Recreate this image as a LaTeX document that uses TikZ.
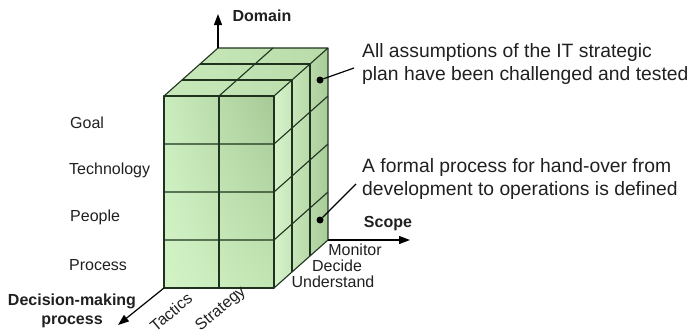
\documentclass[tikz,border=0pt]{standalone}
\usepackage{fontspec}
\setmainfont{Liberation Sans}
\usetikzlibrary{arrows.meta,shadings}
\definecolor{edgec}{HTML}{1E321E}
\definecolor{ful}{HTML}{CBEDBE}
\definecolor{fur}{HTML}{A6C996}
\definecolor{fll}{HTML}{D3F3C7}
\definecolor{flr}{HTML}{C2E5B3}
\definecolor{tl}{HTML}{C9E9BA}
\definecolor{td}{HTML}{B9DBA9}
\definecolor{rl}{HTML}{D6F3CA}
\definecolor{rd}{HTML}{A8CC98}
\definecolor{txt}{HTML}{202020}
\begin{document}
\begin{tikzpicture}[x=1pt,y=-1pt,
  grid/.style={draw=edgec,line width=1.1pt,line join=round},
  axis/.style={draw=black,line width=1.2pt,-{Triangle[length=11pt,width=8pt]}},
  lbl/.style={text=txt,font=\fontsize{16}{19}\selectfont,inner sep=0pt},
  blbl/.style={text=txt,font=\fontsize{16}{19}\selectfont\bfseries,inner sep=0pt},
  note/.style={text=txt,font=\fontsize{19.3}{23}\selectfont,align=left,inner sep=0pt,anchor=west},
  dot/.style={circle,fill=black,inner sep=0pt,minimum size=7pt},
  lead/.style={draw=black,line width=1.2pt}]
\useasboundingbox (0,0) rectangle (692,335);
% corners
\coordinate (A) at (164,96);
\coordinate (B) at (274,96);
\coordinate (C) at (274,288);
\coordinate (D) at (164,288);
\coordinate (E) at (218,48);
\coordinate (G) at (328,48);
\coordinate (H) at (328,240);
% faces
\shade[upper left=ful,upper right=fur,lower left=fll,lower right=flr] (A) -- (B) -- (C) -- (D) -- cycle;
\shade[left color=tl,right color=td] (A) -- (E) -- (G) -- (B) -- cycle;
\shade[left color=rl,right color=rd] (B) -- (G) -- (H) -- (C) -- cycle;
% grid
\foreach \k in {1,2}{
  \draw[grid] ({164+18*\k},{96-16*\k}) -- ({274+18*\k},{96-16*\k});
  \draw[grid] ({274+18*\k},{96-16*\k}) -- ({274+18*\k},{288-16*\k});
}
\draw[grid] (219,96) -- (273,48);
\draw[grid] (219,96) -- (219,288);
\foreach \y in {144,192,240}{
  \draw[grid] (164,\y) -- (274,\y) -- (328,{\y-48});
}
\draw[grid] (A) -- (B) -- (C) -- (D) -- cycle;
\draw[grid] (A) -- (E) -- (G) -- (B);
\draw[grid] (G) -- (H) -- (C);
% axes
\coordinate (domtip) at (218,14);
\coordinate (scotip) at (410,240);
\coordinate (dectip) at (118,325);
\draw[axis] (E) -- (domtip);
\draw[axis] (H) -- (scotip);
\draw[axis] (D) -- (dectip);
% axis labels
\node[blbl] (domain) at (262,16) {Domain};
\node[blbl] (scope) at (388,224) {Scope};
\node[blbl,align=center] (dmp) at (72,311) {Decision-making\\process};
% row labels
\node[lbl,anchor=west] (goal) at (70,123) {Goal};
\node[lbl,anchor=west] (tech) at (69,170) {Technology};
\node[lbl,anchor=west] (people) at (70,217) {People};
\node[lbl,anchor=west] (process) at (69,265) {Process};
% column labels
\node[lbl,rotate=40] (tactics) at (171,312) {Tactics};
\node[lbl,rotate=40] (strategy) at (221,309) {Strategy};
% depth labels
\node[lbl] (monitor) at (355,250) {Monitor};
\node[lbl] (decide) at (337,266) {Decide};
\node[lbl] (understand) at (333,282) {Understand};
% annotations
\node[note] (n1) at (362,64) {All assumptions of the IT strategic\\plan have been challenged and tested};
\node[note] (n2) at (362,179) {A formal process for hand-over from\\development to operations is defined};
\node[dot] (d1) at (320,80) {};
\node[dot] (d2) at (320,220) {};
\coordinate (l1) at (354,68);
\coordinate (l2) at (356,184);
\draw[lead] (d1) -- (l1);
\draw[lead] (d2) -- (l2);
\end{tikzpicture}
\end{document}
